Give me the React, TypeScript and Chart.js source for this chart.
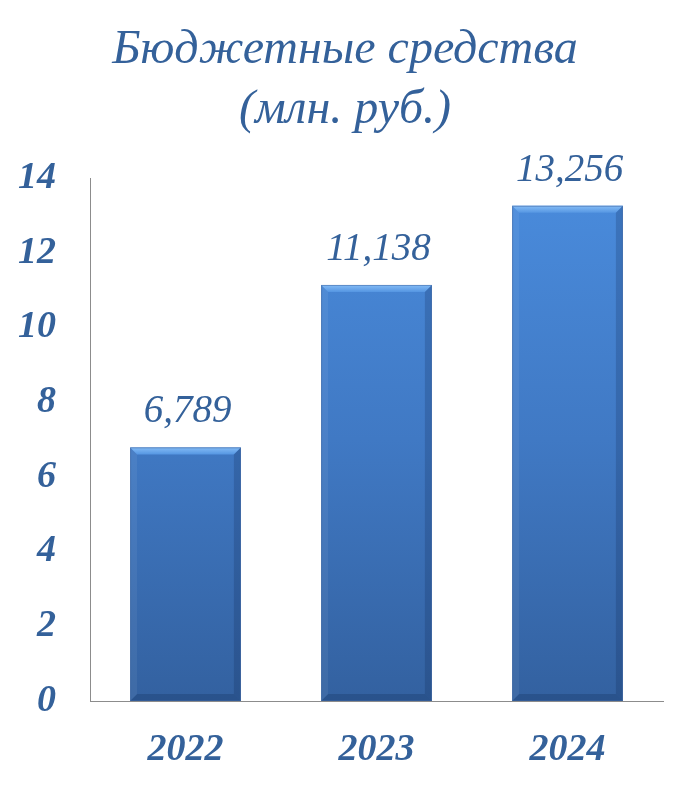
import React, { useEffect, useRef } from 'react';
import { Chart, registerables } from 'chart.js';

Chart.register(...registerables);

const years = ['2022', '2023', '2024'];
const budget = [6.789, 11.138, 13.256];
const titleLines = ['Бюджетные средства', '(млн. руб.)'];

const TEXT_COLOR = '#34619A';
const FONT = '"Liberation Serif", serif';

// two-line title, centred a bit right of the canvas middle like the original
const titleText = {
  id: 'titleText',
  afterDraw(chart: any) {
    const { ctx } = chart;
    ctx.save();
    ctx.font = `italic 48px ${FONT}`;
    ctx.fillStyle = TEXT_COLOR;
    ctx.textAlign = 'center';
    ctx.textBaseline = 'alphabetic';
    titleLines.forEach((line, i) => {
      ctx.fillText(line, 345, 63 + i * 60);
    });
    ctx.restore();
  },
};

// value labels above the bars, "6,789" style
const valueLabels = {
  id: 'valueLabels',
  afterDatasetsDraw(chart: any) {
    const { ctx } = chart;
    const meta = chart.getDatasetMeta(0);
    ctx.save();
    ctx.font = `italic 39px ${FONT}`;
    ctx.fillStyle = TEXT_COLOR;
    ctx.textAlign = 'center';
    ctx.textBaseline = 'alphabetic';
    meta.data.forEach((bar: any, i: number) => {
      const txt = budget[i].toFixed(3).replace('.', ',');
      ctx.fillText(txt, bar.x + 2, bar.y - 25);
    });
    ctx.restore();
  },
};

// bevel edges on the bars
const bevel = {
  id: 'bevel',
  afterDatasetsDraw(chart: any) {
    const { ctx } = chart;
    const meta = chart.getDatasetMeta(0);
    const b = 7;
    ctx.save();
    meta.data.forEach((bar: any) => {
      const l = bar.x - bar.width / 2;
      const r = bar.x + bar.width / 2;
      const t = bar.y;
      const btm = bar.base;
      const poly = (pts: number[][], fill: any) => {
        ctx.beginPath();
        ctx.moveTo(pts[0][0], pts[0][1]);
        for (let k = 1; k < pts.length; k++) ctx.lineTo(pts[k][0], pts[k][1]);
        ctx.closePath();
        ctx.fillStyle = fill;
        ctx.fill();
      };
      const topG = ctx.createLinearGradient(0, t, 0, t + b);
      topG.addColorStop(0, '#85BCF6');
      topG.addColorStop(1, '#5596E2');
      poly([[l, t], [r, t], [r - b, t + b], [l + b, t + b]], topG);
      poly([[l, t], [l + b, t + b], [l + b, btm - b], [l, btm]], 'rgba(255,255,255,0.06)');
      poly([[r, t], [r, btm], [r - b, btm - b], [r - b, t + b]], 'rgba(10,30,70,0.2)');
      poly([[l, btm], [l + b, btm - b], [r - b, btm - b], [r, btm]], 'rgba(10,30,70,0.22)');
      ctx.strokeStyle = 'rgba(60,100,160,0.55)';
      ctx.lineWidth = 1;
      ctx.strokeRect(l + 0.5, t + 0.5, bar.width - 1, btm - t - 1);
    });
    ctx.restore();
  },
};

export default function App() {
  const canvasRef = useRef<HTMLCanvasElement | null>(null);

  useEffect(() => {
    document.body.style.margin = '0';
    const ctx = canvasRef.current?.getContext('2d');
    if (!ctx) return;

    const chart = new Chart(ctx, {
      type: 'bar',
      data: {
        labels: years,
        datasets: [
          {
            data: budget,
            backgroundColor: (c: any) => {
              const area = c.chart.chartArea;
              if (!area) return '#4080CC';
              const g = c.chart.ctx.createLinearGradient(0, area.top, 0, area.bottom);
              g.addColorStop(0, '#4A8CDD');
              g.addColorStop(0.5, '#4079C4');
              g.addColorStop(1, '#3361A0');
              return g;
            },
            borderWidth: 0,
            barPercentage: 0.58,
            categoryPercentage: 1,
          },
        ],
      },
      options: {
        responsive: true,
        maintainAspectRatio: false,
        animation: false,
        layout: { padding: { left: 0, right: 23, top: 178, bottom: 0 } },
        plugins: {
          legend: { display: false },
          tooltip: { enabled: false },
          title: { display: false },
        },
        scales: {
          x: {
            grid: { display: false, drawTicks: false },
            border: { display: true, color: '#8C8C8C', width: 1 },
            ticks: {
              color: TEXT_COLOR,
              padding: 26,
              font: { family: FONT, size: 38, style: 'italic', weight: 'bold' },
            },
            afterFit: (s: any) => {
              s.height = 84;
            },
          },
          y: {
            min: 0,
            max: 14,
            grid: { display: false, drawTicks: false },
            border: { display: true, color: '#8C8C8C', width: 1 },
            ticks: {
              stepSize: 2,
              color: TEXT_COLOR,
              padding: 34,
              font: { family: FONT, size: 38, style: 'italic', weight: 'bold' },
            },
            afterFit: (s: any) => {
              s.width = 90;
            },
          },
        },
      },
      plugins: [bevel, valueLabels, titleText],
    });

    return () => {
      chart.destroy();
    };
  }, []);

  return (
    <div style={{ width: 686, height: 785, position: 'relative' }}>
      <canvas ref={canvasRef} />
    </div>
  );
}
